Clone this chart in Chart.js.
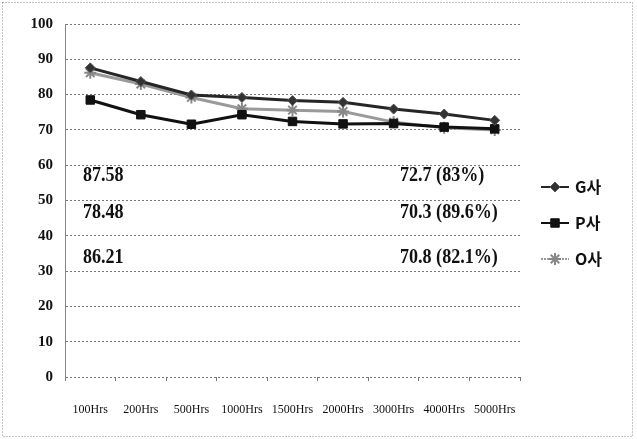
<!DOCTYPE html>
<html>
<head>
<meta charset="utf-8">
<script src="https://cdn.jsdelivr.net/npm/chart.js@4.4.1/dist/chart.umd.min.js"></script>
<style>
  html, body { margin: 0; padding: 0; background: #fff; }
  #wrap { width: 637px; height: 439px; }
</style>
</head>
<body>
<div id="wrap"><canvas id="chart" width="637" height="439"></canvas></div>
<script>
// === data ===
const hours = ["100Hrs", "200Hrs", "500Hrs", "1000Hrs", "1500Hrs", "2000Hrs", "3000Hrs", "4000Hrs", "5000Hrs"];
const gValues = [87.58, 83.7, 79.9, 79.2, 78.3, 77.8, 75.9, 74.5, 72.7];
const pValues = [78.48, 74.3, 71.6, 74.3, 72.4, 71.7, 71.8, 70.8, 70.3];
const oValues = [86.21, 83.0, 79.2, 76.0, 75.6, 75.2, 72.2, 70.6, 70.0];
const seriesNames = ["G사", "P사", "O사"];

// start / end notes written inside the plot
const startNotes = ["87.58", "78.48", "86.21"];
const endNotes = ["72.7 (83%)", "70.3 (89.6%)", "70.8 (82.1%)"];
const noteLevels = [57.2, 46.7, 33.7];

const serif = "'Liberation Serif', 'Times New Roman', serif";

// white page + dotted outer frame
const framePlugin = {
  id: "frame",
  beforeDraw(chart) {
    const ctx = chart.ctx;
    ctx.save();
    ctx.fillStyle = "#fff";
    ctx.fillRect(0, 0, chart.width, chart.height);
    ctx.restore();
  },
  afterDraw(chart) {
    const ctx = chart.ctx;
    ctx.save();
    ctx.strokeStyle = "#888";
    ctx.lineWidth = 1;
    ctx.setLineDash([1, 2]);
    ctx.strokeRect(2.5, 2.5, 630, 434);
    ctx.restore();
  },
};

// the number notes in the plot (narrow, heavy serif like the scan)
const notesPlugin = {
  id: "notes",
  afterDatasetsDraw(chart) {
    const ctx = chart.ctx;
    const y = chart.scales.y;
    const sx = 0.86;
    ctx.save();
    ctx.font = "bold 21px " + serif;
    ctx.fillStyle = "#111";
    ctx.textBaseline = "middle";
    ctx.textAlign = "left";
    ctx.scale(sx, 1);
    for (let i = 0; i < startNotes.length; i++) {
      const py = y.getPixelForValue(noteLevels[i]);
      ctx.fillText(startNotes[i], 83 / sx, py);
      ctx.fillText(endNotes[i], 400 / sx, py);
    }
    ctx.restore();
  },
};

// legend on the right: line + marker + name
const legendPlugin = {
  id: "sideLegend",
  afterDraw(chart) {
    const ctx = chart.ctx;
    const rows = [187, 223, 259];
    chart.data.datasets.forEach((ds, i) => {
      const cy = rows[i];
      ctx.save();
      ctx.strokeStyle = ds.borderColor;
      ctx.lineWidth = 2;
      ctx.setLineDash(ds.legendDash || []);
      ctx.beginPath();
      ctx.moveTo(541, cy);
      ctx.lineTo(569, cy);
      ctx.stroke();
      ctx.restore();

      ctx.save();
      ctx.fillStyle = ds.pointBackgroundColor;
      ctx.strokeStyle = ds.pointBorderColor;
      ctx.lineWidth = ds.pointBorderWidth;
      Chart.helpers.drawPoint(ctx, {
        pointStyle: ds.pointStyle,
        radius: ds.pointRadius,
        rotation: 0,
        borderWidth: ds.pointBorderWidth,
      }, 555, cy);
      ctx.restore();

      ctx.save();
      ctx.font = "bold 16px 'Noto Sans CJK KR', sans-serif";
      ctx.fillStyle = "#111";
      ctx.textBaseline = "middle";
      ctx.fillText(seriesNames[i], 575, cy);
      ctx.restore();
    });
  },
};

const ctx = document.getElementById("chart").getContext("2d");
const chart = new Chart(ctx, {
  type: "line",
  data: {
    labels: hours,
    datasets: [
      {
        label: seriesNames[0],
        data: gValues,
        borderColor: "#262626",
        borderWidth: 3,
        pointStyle: "rectRot",
        pointRadius: 5,
        pointBackgroundColor: "#333",
        pointBorderColor: "#555",
        pointBorderWidth: 1,
      },
      {
        label: seriesNames[1],
        data: pValues,
        borderColor: "#111",
        borderWidth: 3,
        pointStyle: "rect",
        pointRadius: 6,
        pointBackgroundColor: "#111",
        pointBorderColor: "#111",
        pointBorderWidth: 1,
      },
      {
        label: seriesNames[2],
        data: oValues,
        borderColor: "#9a9a9a",
        borderWidth: 3,
        pointStyle: "star",
        pointRadius: 6,
        pointBackgroundColor: "#999",
        pointBorderColor: "#888",
        pointBorderWidth: 2,
        legendDash: [2, 1],
      },
    ],
  },
  options: {
    responsive: false,
    animation: false,
    layout: { padding: { left: 0, right: 117, top: 24, bottom: 0 } },
    plugins: {
      legend: { display: false },
      tooltip: { enabled: false },
    },
    elements: { line: { tension: 0 } },
    scales: {
      x: {
        offset: true,
        grid: { drawOnChartArea: false, offset: true, tickLength: 4, color: "#777" },
        border: { display: false },
        ticks: {
          font: { family: serif, size: 12 },
          color: "#111",
          padding: 22,
          maxRotation: 0,
          autoSkip: false,
        },
        afterFit(scale) { scale.height = 62; },
      },
      y: {
        min: 0,
        max: 100,
        ticks: {
          stepSize: 10,
          font: { family: serif, size: 15, weight: "bold" },
          color: "#111",
          padding: 12,
        },
        grid: { color: "#777", drawTicks: false },
        border: { color: "#888", dash: [2, 2] },
        afterFit(scale) { scale.width = 65; },
      },
    },
  },
  plugins: [framePlugin, notesPlugin, legendPlugin],
});
</script>
</body>
</html>
